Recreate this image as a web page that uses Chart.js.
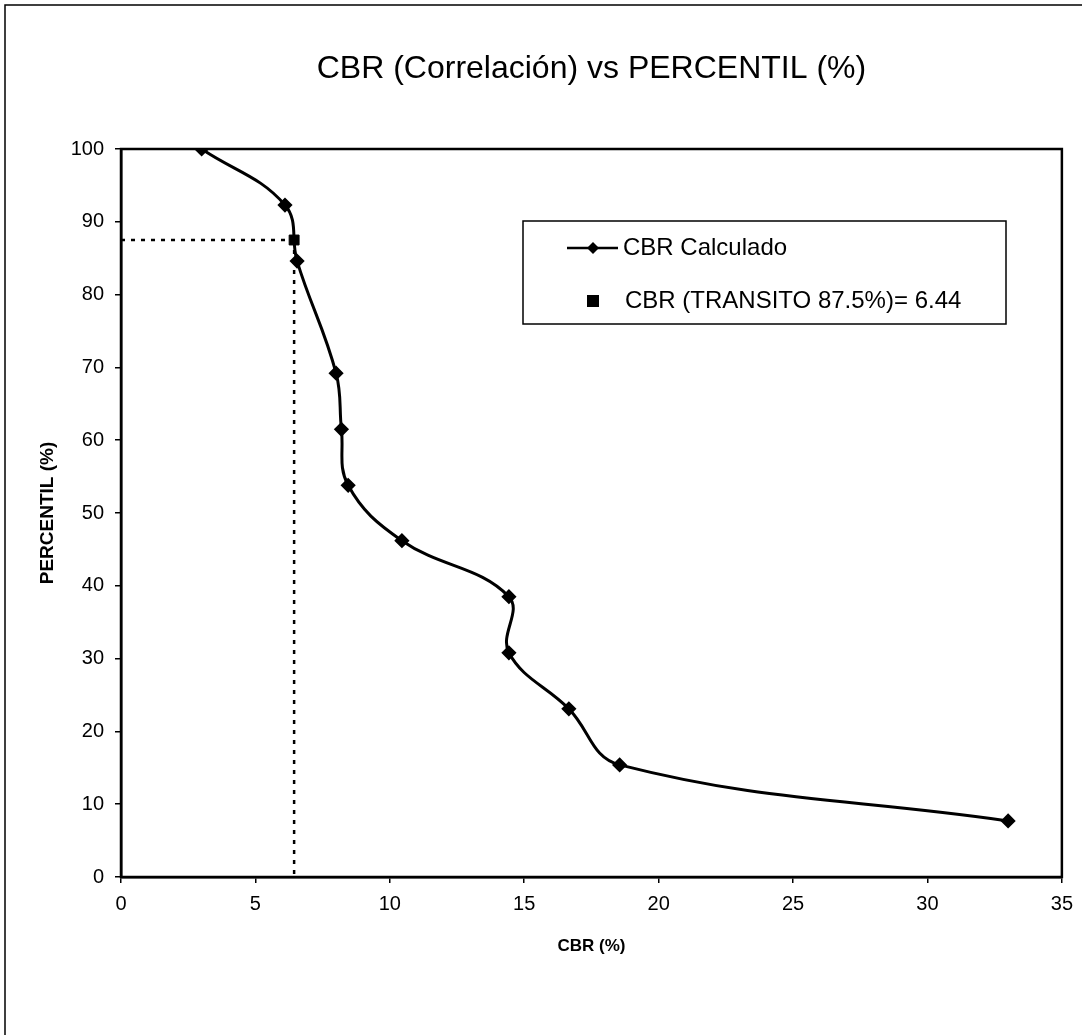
<!DOCTYPE html>
<html>
<head>
<meta charset="utf-8">
<title>CBR (Correlación) vs PERCENTIL (%)</title>
<script src="https://cdn.jsdelivr.net/npm/chart.js@4.4.1/dist/chart.umd.min.js"></script>
<style>
  body { margin: 0; background: #fff; }
  canvas { display: block; }
</style>
</head>
<body>
<canvas id="cbrChart" width="1082" height="1035"></canvas>
<script>
// Data
const cbrValues = [3.0, 6.1, 6.55, 8.0, 8.2, 8.45, 10.45, 14.43, 14.43, 16.66, 18.55, 33.0];
const percentilValues = [100, 92.3, 84.6, 69.2, 61.5, 53.8, 46.2, 38.5, 30.8, 23.1, 15.4, 7.7];
const transitPercent = 87.5;
const transitCbr = 6.44;
const xTicks = [0, 5, 10, 15, 20, 25, 30, 35];
const yTicks = [0, 10, 20, 30, 40, 50, 60, 70, 80, 90, 100];
const legendLabels = ['CBR Calculado', 'CBR (TRANSITO ' + transitPercent + '%)= ' + transitCbr];

const FONT = 'Arial, "Liberation Sans", sans-serif';

const calcPoints = cbrValues.map((x, i) => ({ x: x, y: percentilValues[i] }));

// Frame, plot border and legend box
const framePlugin = {
    id: 'frame',
    beforeDraw(chart) {
        const ctx = chart.ctx;
        ctx.save();
        ctx.fillStyle = '#fff';
        ctx.fillRect(0, 0, chart.width, chart.height);
        ctx.strokeStyle = '#000';
        ctx.lineWidth = 1.5;
        ctx.strokeRect(5, 5, chart.width + 50, chart.height + 50);
        ctx.restore();
    },
    afterDraw(chart) {
        const ctx = chart.ctx;
        const a = chart.chartArea;
        ctx.save();
        ctx.strokeStyle = '#000';
        ctx.lineWidth = 2.5;
        ctx.strokeRect(a.left, a.top, a.right - a.left, a.bottom - a.top);

        // legend
        const bx = 523, by = 221, bw = 483, bh = 103;
        ctx.fillStyle = '#fff';
        ctx.fillRect(bx, by, bw, bh);
        ctx.lineWidth = 1.5;
        ctx.strokeRect(bx, by, bw, bh);

        const row1 = 248, row2 = 301;
        ctx.lineWidth = 2.5;
        ctx.beginPath();
        ctx.moveTo(567, row1);
        ctx.lineTo(618, row1);
        ctx.stroke();
        ctx.fillStyle = '#000';
        ctx.beginPath();
        ctx.moveTo(593, row1 - 6);
        ctx.lineTo(599, row1);
        ctx.lineTo(593, row1 + 6);
        ctx.lineTo(587, row1);
        ctx.closePath();
        ctx.fill();
        ctx.fillRect(587, row2 - 6, 12, 12);

        ctx.font = '24px ' + FONT;
        ctx.textBaseline = 'middle';
        ctx.textAlign = 'left';
        ctx.fillText(legendLabels[0], 623, row1);
        ctx.fillText(legendLabels[1], 625, row2);
        ctx.restore();
    }
};

new Chart(document.getElementById('cbrChart').getContext('2d'), {
    type: 'scatter',
    data: {
        datasets: [{
            label: legendLabels[1],
            data: [{ x: transitCbr, y: transitPercent }],
            pointStyle: 'rect',
            pointRadius: 7,
            backgroundColor: '#000',
            borderColor: '#000',
            showLine: false,
            order: 0
        }, {
            label: legendLabels[0],
            data: calcPoints,
            showLine: true,
            tension: 0.4,
            borderColor: '#000',
            borderWidth: 3,
            pointStyle: 'rectRot',
            pointRadius: 5.5,
            pointBackgroundColor: '#000',
            pointBorderColor: '#000',
            order: 1
        }, {
            label: 'guide-h',
            data: [{ x: 0, y: transitPercent }, { x: transitCbr, y: transitPercent }],
            showLine: true,
            borderColor: '#000',
            borderWidth: 2.5,
            borderDash: [4, 6],
            pointRadius: 0,
            order: 2
        }, {
            label: 'guide-v',
            data: [{ x: transitCbr, y: transitPercent }, { x: transitCbr, y: 0 }],
            showLine: true,
            borderColor: '#000',
            borderWidth: 2.5,
            borderDash: [4, 6],
            pointRadius: 0,
            order: 2
        }]
    },
    options: {
        responsive: false,
        animation: false,
        layout: { padding: { left: 0, right: 19, top: 0, bottom: 0 } },
        plugins: {
            legend: { display: false },
            tooltip: { enabled: false },
            title: {
                display: true,
                text: 'CBR (Correlación) vs PERCENTIL (%)',
                color: '#000',
                fullSize: false,
                font: { family: FONT, size: 32, weight: 'normal' },
                padding: { top: 50, bottom: 60.6 }
            }
        },
        scales: {
            x: {
                type: 'linear',
                min: 0,
                max: 35,
                afterBuildTicks: (scale) => { scale.ticks = xTicks.map(v => ({ value: v })); },
                afterFit: (scale) => { scale.height = 158; },
                grid: { drawOnChartArea: false, drawTicks: true, tickLength: 6, color: '#000', lineWidth: 1.5 },
                border: { display: true, color: '#000', width: 2.5 },
                ticks: { color: '#000', padding: 9, font: { family: FONT, size: 20 } },
                title: {
                    display: true,
                    text: 'CBR (%)',
                    color: '#000',
                    font: { family: FONT, size: 17, weight: 'bold' },
                    padding: { top: 0, bottom: 78 }
                }
            },
            y: {
                type: 'linear',
                min: 0,
                max: 100,
                afterBuildTicks: (scale) => { scale.ticks = yTicks.map(v => ({ value: v })); },
                afterFit: (scale) => { scale.width = 121; },
                grid: { drawOnChartArea: false, drawTicks: true, tickLength: 6, color: '#000', lineWidth: 1.5 },
                border: { display: true, color: '#000', width: 2.5 },
                ticks: { color: '#000', padding: 11, font: { family: FONT, size: 20 } },
                title: {
                    display: true,
                    text: 'PERCENTIL (%)',
                    color: '#000',
                    font: { family: FONT, size: 19, weight: 'bold' },
                    padding: { top: 36, bottom: 0 }
                }
            }
        }
    },
    plugins: [framePlugin]
});
</script>
</body>
</html>
